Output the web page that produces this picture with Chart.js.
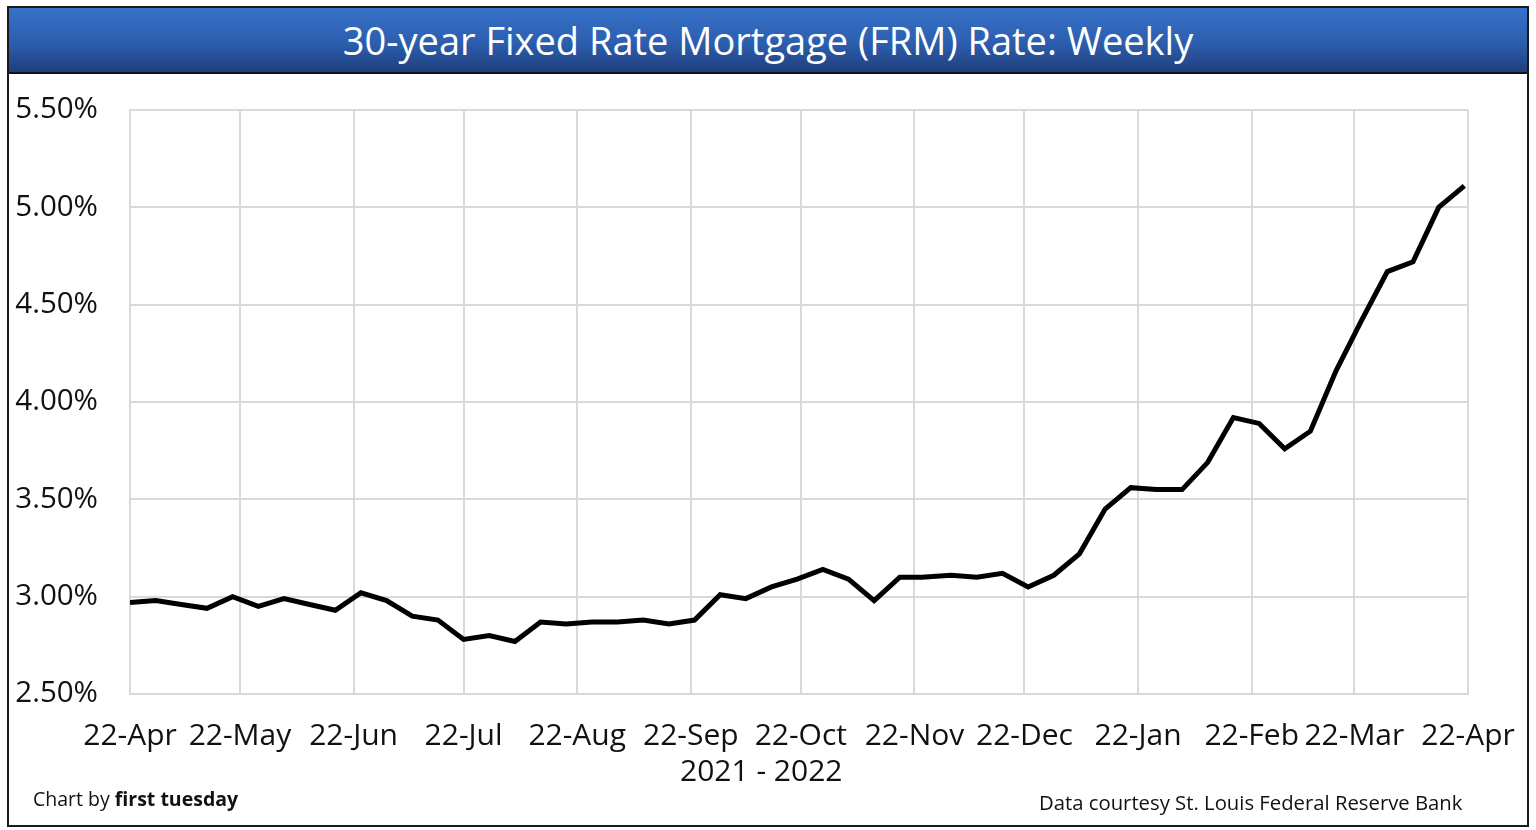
<!DOCTYPE html>
<html>
<head>
<meta charset="utf-8">
<title>30-year Fixed Rate Mortgage (FRM) Rate: Weekly</title>
<script src="https://cdn.jsdelivr.net/npm/chart.js@4/dist/chart.umd.min.js"></script>
<style>
    html, body { margin: 0; padding: 0; background: #fff; }
    body { width: 1536px; height: 830px; position: relative; overflow: hidden; font-family: "Open Sans", sans-serif; }
    #frame { position: absolute; left: 7px; top: 6px; width: 1518px; height: 817px; border: 2px solid #1a1a1a; }
    #banner {
        position: absolute; left: 9px; top: 8px; width: 1518px; height: 64px;
        background: linear-gradient(to bottom, #3671c9 0%, #2c5eae 55%, #1f3f7c 100%);
        border-bottom: 2px solid #111;
        color: #fff; font-size: 38px; text-align: center; line-height: 64px;
    }
    #chartWrap { position: absolute; left: 0; top: 0; width: 1536px; height: 830px; }
    .note { position: absolute; color: #111; white-space: nowrap; }
    #axisTitle { left: 680px; top: 749px; font-size: 30px; }
    #credit { left: 33px; top: 785px; font-size: 19.5px; }
    #source { left: 1039px; top: 788px; font-size: 20.3px; }
</style>
</head>
<body>
<div id="frame"></div>
<div id="banner">30-year Fixed Rate Mortgage (FRM) Rate: Weekly</div>
<div id="chartWrap"><canvas id="rateChart" width="1536" height="830"></canvas></div>
<div class="note" id="axisTitle">2021 - 2022</div>
<div class="note" id="credit">Chart by <b>first tuesday</b></div>
<div class="note" id="source">Data courtesy St. Louis Federal Reserve Bank</div>

<script>
// ============ DATA ============
const weekDates = [
    '2021-04-22', '2021-04-29', '2021-05-06', '2021-05-13', '2021-05-20', '2021-05-27',
    '2021-06-03', '2021-06-10', '2021-06-17', '2021-06-24', '2021-07-01', '2021-07-08',
    '2021-07-15', '2021-07-22', '2021-07-29', '2021-08-05', '2021-08-12', '2021-08-19',
    '2021-08-26', '2021-09-02', '2021-09-09', '2021-09-16', '2021-09-23', '2021-09-30',
    '2021-10-07', '2021-10-14', '2021-10-21', '2021-10-28', '2021-11-04', '2021-11-11',
    '2021-11-18', '2021-11-24', '2021-12-02', '2021-12-09', '2021-12-16', '2021-12-23',
    '2021-12-30', '2022-01-06', '2022-01-13', '2022-01-20', '2022-01-27', '2022-02-03',
    '2022-02-10', '2022-02-17', '2022-02-24', '2022-03-03', '2022-03-10', '2022-03-17',
    '2022-03-24', '2022-03-31', '2022-04-07', '2022-04-14', '2022-04-21'
];
const rates = [
    2.97, 2.98, 2.96, 2.94, 3.00, 2.95,
    2.99, 2.96, 2.93, 3.02, 2.98, 2.90,
    2.88, 2.78, 2.80, 2.77, 2.87, 2.86,
    2.87, 2.87, 2.88, 2.86, 2.88, 3.01,
    2.99, 3.05, 3.09, 3.14, 3.09, 2.98,
    3.10, 3.10, 3.11, 3.10, 3.12, 3.05,
    3.11, 3.22, 3.45, 3.56, 3.55, 3.55,
    3.69, 3.92, 3.89, 3.76, 3.85, 4.16,
    4.42, 4.67, 4.72, 5.00, 5.11
];
const tickDates = [
    '2021-04-22', '2021-05-22', '2021-06-22', '2021-07-22', '2021-08-22', '2021-09-22',
    '2021-10-22', '2021-11-22', '2021-12-22', '2022-01-22', '2022-02-22', '2022-03-22', '2022-04-22'
];
const tickLabels = [
    '22-Apr', '22-May', '22-Jun', '22-Jul', '22-Aug', '22-Sep',
    '22-Oct', '22-Nov', '22-Dec', '22-Jan', '22-Feb', '22-Mar', '22-Apr'
];

// ============ HELPERS ============
const DAY_MS = 24 * 60 * 60 * 1000;
const startMs = Date.parse(tickDates[0] + 'T00:00:00Z');
function dayOffset(dateStr) {
    return Math.round((Date.parse(dateStr + 'T00:00:00Z') - startMs) / DAY_MS);
}
const tickDays = tickDates.map(dayOffset);
const points = weekDates.map((d, i) => ({ x: dayOffset(d), y: rates[i] }));

const gridColor = '#d9d9d9';

// ============ CHART ============
const ctx = document.getElementById('rateChart').getContext('2d');
window.rateChartInstance = new Chart(ctx, {
    type: 'line',
    data: {
        datasets: [{
            label: '30-year FRM',
            data: points,
            borderColor: '#000',
            borderWidth: 5,
            pointRadius: 0,
            tension: 0,
            fill: false
        }]
    },
    options: {
        responsive: false,
        animation: false,
        layout: { padding: { top: 110, right: 68, left: 0, bottom: 0 } },
        plugins: {
            legend: { display: false },
            tooltip: { enabled: false }
        },
        scales: {
            x: {
                type: 'linear',
                min: tickDays[0],
                max: tickDays[tickDays.length - 1],
                afterBuildTicks: scale => {
                    scale.ticks = tickDays.map(v => ({ value: v }));
                },
                afterFit: scale => {
                    scale.height = 136;
                    scale.paddingLeft = 0;
                    scale.paddingRight = 0;
                },
                ticks: {
                    autoSkip: false,
                    maxRotation: 0,
                    padding: 24,
                    color: '#111',
                    font: { family: "'Open Sans', sans-serif", size: 30 },
                    callback: value => tickLabels[tickDays.indexOf(value)]
                },
                grid: { color: gridColor, lineWidth: 2, drawTicks: false },
                border: { color: gridColor, width: 2 }
            },
            y: {
                min: 2.5,
                max: 5.5,
                afterFit: scale => { scale.width = 130; },
                ticks: {
                    stepSize: 0.5,
                    padding: 32,
                    color: '#111',
                    font: { family: "'Open Sans', sans-serif", size: 29.5 },
                    callback: value => value.toFixed(2) + '%'
                },
                grid: { color: gridColor, lineWidth: 2, drawTicks: false },
                border: { color: gridColor, width: 2 }
            }
        }
    }
});
</script>
</body>
</html>
